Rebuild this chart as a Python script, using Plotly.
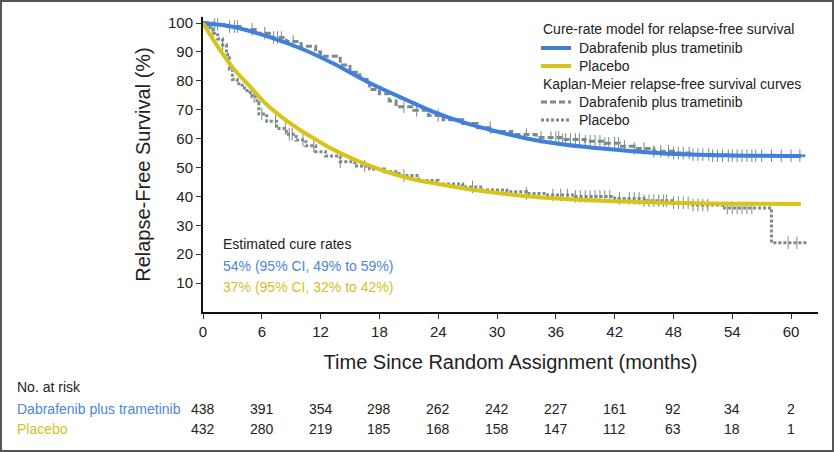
import numpy as np
import plotly.graph_objects as go

# ---------------- data ----------------
# Cure-rate model curves
cure_dab_t = [0, 3, 6.5, 10, 13.3, 16.7, 20.5, 23.5, 27, 30.3, 33.7, 37, 41, 47, 54, 61]
cure_dab_v = [100, 98.7, 95.5, 91.2, 86, 79.8, 73.8, 69.3, 65.2, 62.2, 59.6, 57.9, 56.5, 54.9, 54.2, 54]
cure_pla_t = [0, 1.4, 3.1, 4.8, 6.5, 8.2, 9.9, 11.6, 13.3, 16, 18.5, 21, 24, 27, 30.5, 34, 38, 42, 47, 54, 61]
cure_pla_v = [100, 92.4, 84.3, 78, 71.8, 67, 63, 59.5, 56.2, 52, 48.8, 46.3, 44.3, 42.6, 41, 39.8, 38.9, 38.3, 37.8, 37.5, 37.4]

# Kaplan-Meier step curves (time of step, survival after step)
km_dab_t = [0, 1, 2.5, 4, 5.5, 7, 8.5, 10, 11.5, 12, 14, 15, 16, 17, 18, 19, 19.7, 21.5, 23, 24.5,
            26.5, 28, 29.5, 31.5, 34, 36.5, 39, 41, 42.5, 44, 46, 48, 50, 52, 61.7]
km_dab_v = [100, 99.5, 98.8, 97.8, 96.5, 95, 93.6, 92, 90, 88.5, 85.5, 83, 80.5, 77, 75.5, 73, 71, 69.8, 68, 66.5,
            65.2, 63.8, 62.5, 61.4, 60.4, 59.7, 59.1, 58.4, 57.4, 56.6, 55.6, 55, 54.5, 54.1, 54.1]
km_pla_t = [0, 0.5, 1, 1.5, 2, 2.4, 2.7, 3, 3.5, 4, 4.5, 5, 5.5, 5.7, 6.5, 7.5, 8.5, 9.5, 10.5, 11.5,
            12.5, 14, 15.5, 17, 18.5, 20, 22, 24, 26.5, 28.5, 31, 33, 35, 38, 42, 45, 48, 50, 53, 58, 61.6]
km_pla_v = [100, 98.5, 96.5, 94.5, 92.5, 89, 84, 80.5, 79, 77.5, 76, 74.5, 72.5, 68.5, 66, 63.5, 61.5, 59.5, 57.5, 55.5,
            54, 52, 50.5, 49.5, 48.5, 47.2, 45.5, 44.3, 43.3, 42.2, 41.6, 41, 40.5, 40, 39.3, 38.5, 37.8, 37, 36, 24, 24]

# censoring times
cens_dab = [1.2, 1.5, 2.7, 3.2, 3.5, 5, 6.3, 7.2, 7.6, 8, 9.2, 20.5, 21.8, 24, 29.3, 33, 34.5, 35.5, 36, 36.3,
            36.7, 37, 37.5, 38, 38.4, 39, 39.5, 40, 40.5, 41, 41.4, 42, 42.4, 43, 44, 45, 46, 46.7, 47.5, 48,
            48.5, 49, 49.6, 50, 50.5, 51, 51.6, 52, 52.5, 53, 53.6, 54, 54.5, 55, 55.5, 56, 56.4, 57, 58, 59, 60, 60.9]
cens_pla = [0.5, 1, 2, 5.2, 6, 7.4, 8.4, 8.8, 9.1, 10.2, 11.3, 14, 16.5, 20.5, 27.5, 33, 35.7, 36.5, 37.2, 38,
            38.5, 39, 39.5, 40, 40.5, 41, 41.5, 42.5, 43.5, 44, 44.5, 45, 45.5, 46, 46.5, 47, 47.3, 48, 48.5, 49,
            49.5, 50, 50.5, 51, 51.5, 53.5, 54, 54.5, 55, 55.5, 56, 59.7, 60.6]

# number at risk table
risk_times = [0, 6, 12, 18, 24, 30, 36, 42, 48, 54, 60]
risk_dab = [438, 391, 354, 298, 262, 242, 227, 161, 92, 34, 2]
risk_pla = [432, 280, 219, 185, 168, 158, 147, 112, 63, 18, 1]

x_ticks = [0, 6, 12, 18, 24, 30, 36, 42, 48, 54, 60]
y_ticks = [10, 20, 30, 40, 50, 60, 70, 80, 90, 100]

legend_rows = [
    ("Cure-rate model for relapse-free survival", None, None),
    ("Dabrafenib plus trametinib", "blue", "solid"),
    ("Placebo", "yellow", "solid"),
    ("Kaplan-Meier relapse-free survival curves", None, None),
    ("Dabrafenib plus trametinib", "gray", "dash"),
    ("Placebo", "gray", "dot"),
]

# ---------------- styles ----------------
BLUE = "#3f7fde"
YELLOW = "#d8c31a"
GRAY = "#7b8a8b"
BLUE_TXT = "#4b87db"
YEL_TXT = "#d4bf2a"
FONT = "Liberation Sans, Arial, sans-serif"
COLORS = {"blue": BLUE, "yellow": YELLOW, "gray": GRAY}
DASHES = {"solid": "solid", "dash": "6px,3px", "dot": "3px,2px"}
WIDTHS = {"solid": 4, "dash": 3, "dot": 3}


def step_lookup(t_steps, v_steps, times):
    idx = np.searchsorted(np.array(t_steps), np.array(times), side="right") - 1
    return [v_steps[i] for i in idx]


fig = go.Figure()

# KM curves
fig.add_trace(go.Scatter(x=km_dab_t, y=km_dab_v, mode="lines", name="KM Dabrafenib plus trametinib",
                         line=dict(shape="hv", color=GRAY, width=3, dash=DASHES["dash"])))
fig.add_trace(go.Scatter(x=km_pla_t, y=km_pla_v, mode="lines", name="KM Placebo",
                         line=dict(shape="hv", color=GRAY, width=3, dash=DASHES["dot"])))
fig.add_trace(go.Scatter(x=cens_dab, y=step_lookup(km_dab_t, km_dab_v, cens_dab), mode="markers",
                         marker=dict(symbol="line-ns", size=9, line=dict(color=GRAY, width=1)), hoverinfo="skip"))
fig.add_trace(go.Scatter(x=cens_pla, y=step_lookup(km_pla_t, km_pla_v, cens_pla), mode="markers",
                         marker=dict(symbol="line-ns", size=9, line=dict(color=GRAY, width=1)), hoverinfo="skip"))

# cure model curves
fig.add_trace(go.Scatter(x=cure_dab_t, y=cure_dab_v, mode="lines", name="Cure Dabrafenib plus trametinib",
                         line=dict(shape="spline", color=BLUE, width=4)))
fig.add_trace(go.Scatter(x=cure_pla_t, y=cure_pla_v, mode="lines", name="Cure Placebo",
                         line=dict(shape="spline", color=YELLOW, width=4)))

# plot area geometry in pixels
L, R, T, B = 203, 16, 17, 140
PW = 834 - L - R
PH = 452 - T - B


def py(pix):
    return (452 - B - pix) / PH


def px(pix):
    return (pix - L) / PW


def txt(text, x, y, color="#222", xref="paper", xanchor="left", size=14):
    return dict(text=text, x=x, y=y, xref=xref, yref="paper", xanchor=xanchor, yanchor="middle",
                showarrow=False, font=dict(size=size, color=color, family=FONT))


ann = []
shapes = []

# legend (manual, to match the row spacing of the original)
leg_y = [29, 48, 66, 84, 102, 120]
for (label, col, dash), yy in zip(legend_rows, leg_y):
    if col is None:
        ann.append(txt(label, px(541), py(yy)))
    else:
        ann.append(txt(label, px(577), py(yy)))
        shapes.append(dict(type="line", xref="paper", yref="paper", x0=px(541), x1=px(571), y0=py(yy), y1=py(yy),
                           line=dict(color=COLORS[col], width=WIDTHS[dash], dash=DASHES[dash])))

ann.append(txt("Estimated cure rates", px(221), py(244)))
ann.append(txt("54% (95% CI, 49% to 59%)", px(221), py(265.5), color=BLUE_TXT))
ann.append(txt("37% (95% CI, 32% to 42%)", px(221), py(286.5), color=YEL_TXT))

ann.append(txt("No. at risk", px(15), py(387)))
ann.append(txt("Dabrafenib plus trametinib", px(15), py(409), color=BLUE_TXT))
ann.append(txt("Placebo", px(15), py(429), color=YEL_TXT))
for t, a, b in zip(risk_times, risk_dab, risk_pla):
    ann.append(txt(str(a), t, py(409), xref="x", xanchor="center"))
    ann.append(txt(str(b), t, py(429), xref="x", xanchor="center"))

shapes.append(dict(type="rect", xref="paper", yref="paper", x0=px(1), x1=px(833), y0=py(451), y1=py(1),
                   line=dict(color="#555", width=2), fillcolor="rgba(0,0,0,0)", layer="above"))

fig.update_layout(
    width=834, height=452,
    margin=dict(l=L, r=R, t=T, b=B),
    paper_bgcolor="white", plot_bgcolor="white",
    font=dict(family=FONT, color="#222"),
    showlegend=False,
    xaxis=dict(range=[0, 62.75], tickvals=x_ticks, ticks="outside", ticklen=5, tickwidth=1, tickcolor="#333",
               showline=True, linecolor="#111", linewidth=2, showgrid=False, zeroline=False,
               tickfont=dict(size=15, color="#222"),
               title=dict(text="Time Since Random Assignment (months)", font=dict(size=20, color="#222"), standoff=16)),
    yaxis=dict(range=[0, 102.1], tickvals=y_ticks, ticks="outside", ticklen=5, tickwidth=1, tickcolor="#333",
               showline=True, linecolor="#111", linewidth=2, showgrid=False, zeroline=False,
               tickfont=dict(size=15, color="#222"),
               title=dict(text="Relapse-Free Survival (%)", font=dict(size=20, color="#222"), standoff=12)),
    annotations=ann,
    shapes=shapes,
)

fig.write_html("out.html", config={"displayModeBar": False},
               post_script="document.body.style.margin='0';document.body.style.overflow='hidden';")
